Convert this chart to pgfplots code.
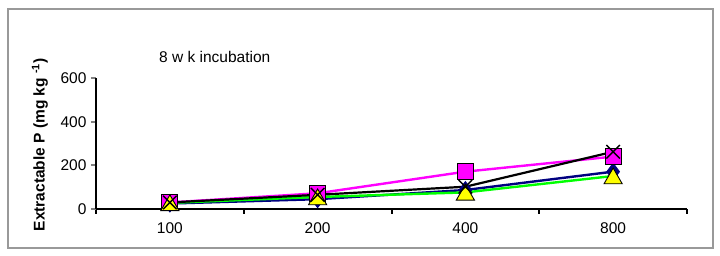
\documentclass[border=0pt]{standalone}
\usepackage{fontspec}
\setmainfont{Liberation Sans}
\usepackage{pgfplots}
\pgfplotsset{compat=1.18}
\definecolor{navyb}{HTML}{000080}
\definecolor{magentab}{HTML}{FF00FF}
\definecolor{greenb}{HTML}{00FF00}
\definecolor{yellowb}{HTML}{FFFF00}
\begin{document}
\begin{tikzpicture}
\useasboundingbox (0pt,0pt) rectangle (720pt,256pt);
\draw[color=black!40, line width=1.2pt] (8pt,8pt) rectangle (713pt,247pt);
\begin{axis}[
  at={(96pt,47pt)}, anchor=south west,
  scale only axis, width=591pt, height=131pt,
  xmin=-0.5, xmax=3.5, ymin=0, ymax=600,
  axis lines*=left,
  axis line style={line width=2pt},
  clip=false,
  xtick={0,1,2,3}, xticklabels={100,200,400,800},
  minor xtick={-0.5,0.5,1.5,2.5,3.5},
  ytick={0,200,400,600},
  tick align=outside,
  major tick length=5pt, minor tick length=5pt,
  x tick style={draw=none},
  minor x tick style={draw=black, line width=2pt},
  y tick style={line width=2pt},
  tick label style={font=\fontsize{15.5}{18}\selectfont},
  xticklabel style={yshift=-5pt},
  yticklabel style={xshift=-1pt},
  /pgf/number format/assume math mode=true,
  ylabel={\textbf{Extractable P (mg kg \textsuperscript{-1})}},
  ylabel style={font=\fontsize{15.5}{18}\selectfont, at={(axis description cs:-0.095,0.49)}, anchor=center},
]
\addplot[navyb, line width=2.4pt, mark=diamond*, mark size=8.5pt, mark options={fill=navyb, draw=navyb, line width=0.8pt}]
  coordinates {(0,25) (1,45) (2,87) (3,171)};
\addplot[magentab, line width=2.4pt, mark=square*, mark size=8pt, mark options={fill=magentab, draw=black, line width=0.9pt}]
  coordinates {(0,30) (1,72) (2,171) (3,240)};
\addplot[greenb, line width=2.4pt, mark=triangle*, mark size=10.5pt, mark options={fill=yellowb, draw=black, line width=0.9pt, yshift=-2.5pt}]
  coordinates {(0,28) (1,55) (2,76) (3,151)};
\addplot[black, line width=2.2pt, mark=x, mark size=9.5pt, mark options={draw=black, line width=1.5pt}]
  coordinates {(0,30) (1,65) (2,102) (3,262)};
\node[font=\fontsize{15.5}{18}\selectfont] at (axis description cs:0.201,1.16) {8 w k incubation};
\end{axis}
\end{tikzpicture}
\end{document}
